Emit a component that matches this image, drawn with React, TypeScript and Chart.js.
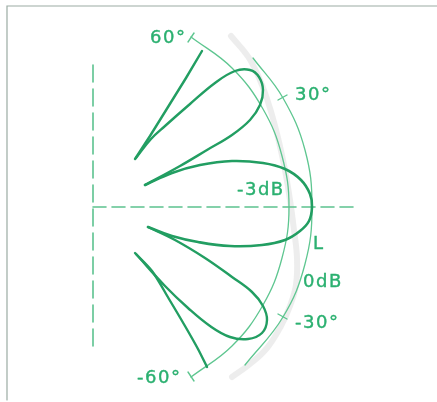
import React, { useEffect, useRef } from "react";
import { Chart, registerables } from "chart.js";

Chart.register(...registerables);

const W = 437;
const H = 402;

// Traced curves (x, y in picture units; y grows downward)
const LINE_60: number[][] = [[135,159],[150,136],[168,107],[186,78],[202,51]];
const LOBE_30: number[][] = [[136,158],[151,139],[165,126],[190,104],[215,83],[235,71],[250,70],[259,77],[263,90],[260,105],[250,120],[232,135],[207,150],[180,166],[145,185]];
const LOBE_0: number[][] = [[145,185],[172,173],[200,165],[232,161],[263,163],[285,169],[301,180],[310,194],[312,207],[309,221],[300,231],[285,240],[262,245],[230,246],[198,242],[172,236],[148,227]];
const LOBE_M30: number[][] = [[148,227],[175,240],[205,258],[232,277],[252,292],[263,306],[267,320],[262,333],[248,339],[230,337],[210,326],[188,308],[165,286],[136,254]];
const LINE_M60: number[][] = [[135,253],[152,271],[169,299],[185,326],[198,349],[207,367]];

// Reference arcs
const ARC_3DB: number[][] = [[191,37],[232,68],[263,109],[282,156],[289,207],[282,258],[263,305],[232,346],[191,377]];
const ARC_0DB: number[][] = [[253,58],[283,98],[305,150],[312,207],[305,264],[283,317],[245,365]];
const ARC_SHADOW: number[][] = [[231,36],[249,58],[262,85],[272,115],[279,142],[285,170],[290,200],[294,230],[297,258],[296,285],[290,306],[281,326],[267,348],[250,364],[232,377]];

// Tick marks
const TICK_30: number[][] = [[278,100],[287,95]];
const TICK_M30: number[][] = [[278,314],[287,319]];
const TICK_60: number[][] = [[188,42],[194,33]];
const TICK_M60: number[][] = [[188,372],[194,381]];

// Axes
const AXIS_V: number[][] = [[93,65],[93,352]];
const AXIS_H: number[][] = [[93,207],[353,207]];
const FRAME: number[][] = [[7,400],[7,6],[437,6]];

// Labels
const LABELS: string[] = ["60°", "30°", "-3dB", "L", "0dB", "-30°", "-60°"];
const LABEL_X: number[] = [150, 295, 237, 313, 303, 295, 137];
const LABEL_Y: number[] = [43, 100, 195, 249, 287, 328, 383];

const LOBE_COLOR = "#229e62";
const ARC_COLOR = "#5ec690";
const TEXT_COLOR = "#2bb070";

const pts = (a: number[][]) => a.map(([x, y]) => ({ x, y }));

const labelPlugin = {
  id: "labelPlugin",
  afterDatasetsDraw(chart: any) {
    const { ctx, scales } = chart;
    ctx.save();
    ctx.fillStyle = TEXT_COLOR;
    ctx.strokeStyle = TEXT_COLOR;
    ctx.lineWidth = 0.4;
    ctx.font = '18px "DejaVu Sans"';
    try { (ctx as any).letterSpacing = "1.5px"; } catch (e) {}
    ctx.textAlign = "left";
    ctx.textBaseline = "alphabetic";
    LABELS.forEach((t, i) => {
      const px = scales.x.getPixelForValue(LABEL_X[i]);
      const py = scales.y.getPixelForValue(LABEL_Y[i]);
      ctx.fillText(t, px, py);
      ctx.strokeText(t, px, py);
    });
    ctx.restore();
  },
};

export default function App() {
  const ref = useRef<HTMLCanvasElement | null>(null);
  useEffect(() => {
    if (!ref.current) return;
    const ds = (data: number[][], color: string, width: number, tension: number, dash: number[] = []) => ({
      data: pts(data),
      showLine: true,
      borderColor: color,
      borderWidth: width,
      borderDash: dash,
      tension,
      pointRadius: 0,
      pointHoverRadius: 0,
      fill: false,
      borderCapStyle: "round" as const,
    });
    const chart = new Chart(ref.current, {
      type: "scatter",
      data: {
        datasets: [
          ds(LINE_60, LOBE_COLOR, 2.4, 0),
          ds(LOBE_30, LOBE_COLOR, 2.4, 0.4),
          ds(LOBE_0, LOBE_COLOR, 2.6, 0.4),
          ds(LOBE_M30, LOBE_COLOR, 2.4, 0.4),
          ds(LINE_M60, LOBE_COLOR, 2.4, 0.3),
          ds(TICK_30, ARC_COLOR, 1.4, 0),
          ds(TICK_M30, ARC_COLOR, 1.4, 0),
          ds(TICK_60, ARC_COLOR, 1.4, 0),
          ds(TICK_M60, ARC_COLOR, 1.4, 0),
          ds(ARC_3DB, ARC_COLOR, 1.3, 0.4),
          ds(ARC_0DB, ARC_COLOR, 1.3, 0.4),
          ds(AXIS_V, "#5cc28f", 1.6, 0, [17, 7]),
          ds(AXIS_H, "#5cc28f", 1.6, 0, [13, 6]),
          ds(FRAME, "rgba(130,150,140,0.8)", 1.2, 0),
          ds(ARC_SHADOW, "rgba(150,150,150,0.17)", 6, 0.4),
        ],
      },
      options: {
        animation: false,
        responsive: false,
        layout: { padding: 0 },
        events: [],
        scales: {
          x: { type: "linear", min: 0, max: W, display: false },
          y: { type: "linear", min: 0, max: H, reverse: true, display: false },
        },
        plugins: {
          legend: { display: false },
          tooltip: { enabled: false },
        },
      },
      plugins: [labelPlugin],
    });
    return () => chart.destroy();
  }, []);
  return (
    <div style={{ position: "fixed", left: 0, top: 0, width: W, height: H, background: "#fff" }}>
      <canvas ref={ref} width={W} height={H} style={{ display: "block" }} />
    </div>
  );
}
